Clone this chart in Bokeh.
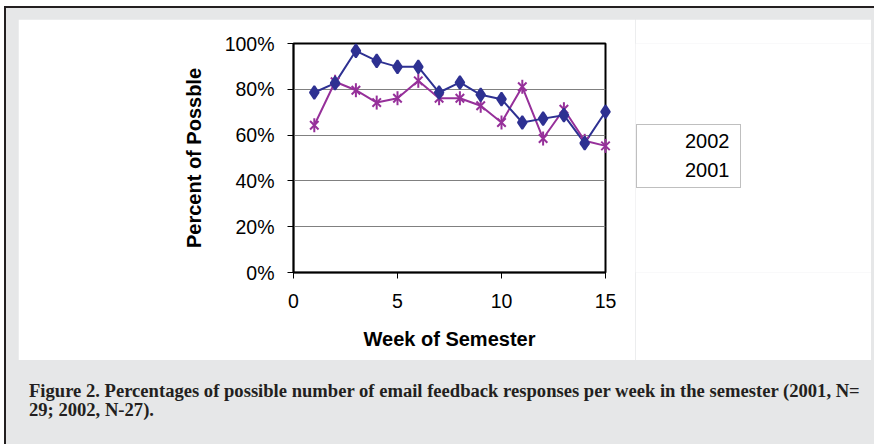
import math
from bokeh.plotting import figure
from bokeh.layouts import column, row
from bokeh.models import (Range1d, NumeralTickFormatter, FixedTicker, Legend,
                          LegendItem, Div)
from bokeh.embed import file_html
from bokeh.resources import INLINE

# ---- data ----
weeks = [1, 2, 3, 4, 5, 6, 7, 8, 9, 10, 11, 12, 13, 14, 15]
pct_2001 = [0.786, 0.827, 0.968, 0.924, 0.898, 0.898, 0.786, 0.830, 0.776,
            0.757, 0.655, 0.672, 0.687, 0.565, 0.702]
pct_2002 = [0.643, 0.833, 0.796, 0.742, 0.761, 0.837, 0.761, 0.761, 0.728,
            0.655, 0.811, 0.585, 0.713, 0.575, 0.553]
x_ticks = [0, 5, 10, 15]
y_ticks = [0.0, 0.2, 0.4, 0.6, 0.8, 1.0]
series_labels = ["2002", "2001"]
x_label = "Week of Semester"
y_label = "Percent of Possble"
caption_lines = [
    "Figure 2. Percentages of possible number of email feedback responses per week in the semester (2001, N=",
    "29; 2002, N-27).",
]

BLUE = "#2E3192"
PURPLE = "#96309A"
GRAY_BG = "#E6E7E8"
DARK = "#231F20"

# white chart panel: page x 18..871, y 19..360 ; split into chart + legend strip
PW, PH = 617, 341           # chart part: page x 18..635
FL, FR, FT, FB = 275, 587, 24, 253  # frame edges inside the chart part
LW = 853 - PW               # legend strip: page x 635..871

p = figure(width=PW, height=PH, x_range=Range1d(0, 15), y_range=Range1d(0, 1),
           output_backend="svg", toolbar_location=None,
           min_border_left=FL, min_border_right=PW - FR,
           min_border_top=FT, min_border_bottom=PH - FB)
p.border_fill_color = "white"
p.background_fill_color = "white"
p.outline_line_color = "black"
p.outline_line_width = 2

# grid
p.xgrid.visible = False
p.ygrid.ticker = FixedTicker(ticks=y_ticks)
p.ygrid.grid_line_color = "#808080"
p.ygrid.grid_line_width = 1

# axes
for ax in (p.xaxis[0], p.yaxis[0]):
    ax.axis_line_color = "black"
    ax.axis_line_width = 1.5
    ax.major_tick_line_color = "black"
    ax.major_tick_in = 0
    ax.major_tick_out = 6
    ax.minor_tick_line_color = None
    ax.major_label_text_font = "Liberation Sans"
    ax.major_label_text_font_size = "19.5px"
    ax.major_label_text_color = "black"
    ax.axis_label_text_font = "Liberation Sans"
    ax.axis_label_text_font_style = "bold"
    ax.axis_label_text_font_size = "20px"
    ax.axis_label_text_color = "black"

p.xaxis.ticker = FixedTicker(ticks=x_ticks)
p.yaxis.ticker = FixedTicker(ticks=y_ticks)
p.yaxis.formatter = NumeralTickFormatter(format="0%")
p.xaxis.axis_label = x_label
p.yaxis.axis_label = y_label
p.xaxis.major_label_standoff = 15
p.yaxis.major_label_standoff = 13
p.xaxis.axis_label_standoff = 17
p.yaxis.axis_label_standoff = 17

# series
STY02 = dict(line_color=PURPLE, line_width=2)
STY01 = dict(line_color=BLUE, line_width=2)
p.line(weeks, pct_2002, **STY02)
p.scatter(weeks, pct_2002, marker="x", size=12, level="overlay", **STY02)
p.scatter(weeks, pct_2002, marker="dash", angle=math.pi / 2, size=14,
          level="overlay", **STY02)
p.line(weeks, pct_2001, **STY01)
p.scatter(weeks, pct_2001, marker="diamond", size=13, fill_color=BLUE,
          level="overlay", **STY01)

# legend strip (white), same plot-area height as the chart
lg = figure(width=LW, height=PH, x_range=Range1d(0, 1), y_range=Range1d(0, 1),
            x_axis_type=None, y_axis_type=None, output_backend="svg",
            toolbar_location=None, min_border_left=0, min_border_right=0,
            min_border_top=FT, min_border_bottom=PH - FB)
lg.border_fill_color = "white"
lg.background_fill_color = "white"
lg.outline_line_color = None
lg.xgrid.visible = False
lg.ygrid.visible = False
# legend keys (no data points; they only carry the series' styles)
k02 = [lg.line([], [], **STY02),
       lg.scatter([], [], marker="x", size=12, **STY02),
       lg.scatter([], [], marker="dash", angle=math.pi / 2, size=14, **STY02)]
k01 = [lg.line([], [], **STY01),
       lg.scatter([], [], marker="diamond", size=13, fill_color=BLUE, **STY01)]

legend = Legend(items=[LegendItem(label=series_labels[0], renderers=k02),
                       LegendItem(label=series_labels[1], renderers=k01)],
                location=(1, 84))
legend.border_line_color = "#808080"
legend.border_line_width = 1
legend.background_fill_color = "white"
legend.background_fill_alpha = 1
legend.label_text_font = "Liberation Sans"
legend.label_text_font_size = "20px"
legend.label_text_color = "black"
legend.glyph_width = 38
legend.glyph_height = 22
legend.label_height = 22
legend.label_width = 50
legend.label_standoff = 5
legend.padding = 5
legend.spacing = 6
legend.margin = 0
lg.add_layout(legend, "center")

# caption (gray area), page y 360..444
cap = Div(text="<br>".join(caption_lines), width=853, height=84, styles={
    "font-family": "'Liberation Serif'", "font-weight": "bold",
    "font-size": "18.6px", "line-height": "19px", "color": DARK,
    "white-space": "nowrap", "padding-left": "11px", "padding-top": "21px",
    "box-sizing": "border-box", "margin": "0",
})

lay = column(row(p, lg, spacing=0), cap, spacing=0, styles={
    "background-color": GRAY_BG,
    "margin-left": "4px", "margin-top": "6px",
    "border-left": f"2px solid {DARK}", "border-top": f"2px solid {DARK}",
    "padding-left": "12px", "padding-top": "11px", "padding-right": "3px",
    "box-sizing": "content-box",
})

open("out.html", "w").write(file_html(lay, INLINE))
